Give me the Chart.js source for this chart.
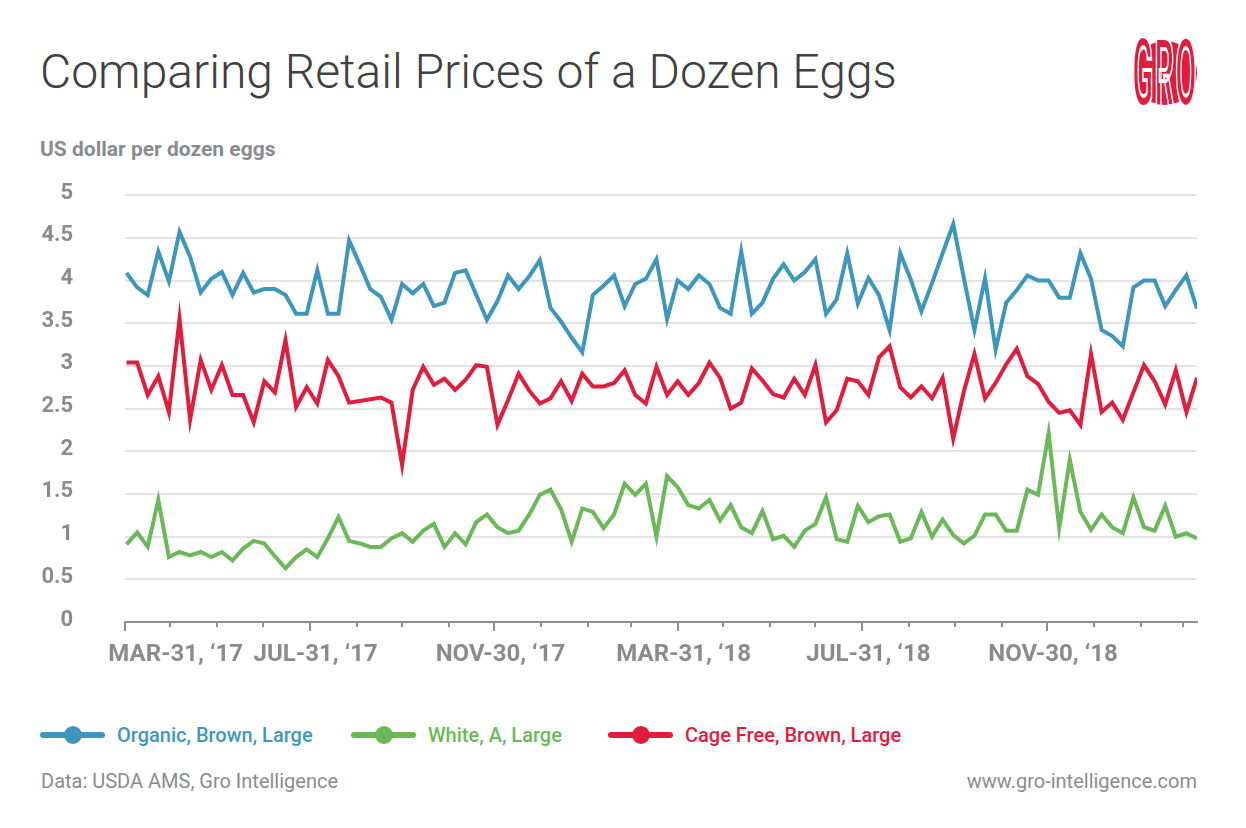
<!DOCTYPE html>
<html lang="en">
<head>
<meta charset="utf-8">
<title>Comparing Retail Prices of a Dozen Eggs</title>
<script src="https://cdn.jsdelivr.net/npm/chart.js@4.4.1/dist/chart.umd.min.js"></script>
<style>
  html, body { margin: 0; padding: 0; background: #fff; }
  body { width: 1246px; height: 828px; position: relative; overflow: hidden; font-family: Roboto, "Noto Sans", sans-serif; }
  .title { position: absolute; left: 40px; top: 48px; font-size: 48px; font-weight: 300; line-height: 1; color: #404040; white-space: nowrap; }
  .unit { position: absolute; left: 40px; top: 139px; font-size: 21px; font-weight: 700; line-height: 1; color: #8a8b8f; white-space: nowrap; }
  .logo { position: absolute; left: 1133px; top: 41px; width: 64px; height: 64px; border-radius: 50%; background: #e31b3c; }
  .logo span { position: absolute; left: 50%; top: 50%; transform: translate(-50%, -50%) scaleX(0.32); font-size: 96px; font-weight: 700; line-height: 1; color: #e31b3c; -webkit-text-stroke: 4px #fff; letter-spacing: 4px; }
  #wrap { position: absolute; left: 0; top: 170px; width: 1246px; height: 520px; }
  #wrap canvas { display: block; }
  .legend-item { position: absolute; top: 722px; height: 26px; display: flex; align-items: center; white-space: nowrap; }
  .legend-item .icon { position: relative; width: 65px; height: 18px; }
  .icon .bar { position: absolute; left: 0; right: 0; top: 6px; height: 6px; border-radius: 3px; }
  .icon .dot { position: absolute; left: 23.5px; top: 0; width: 18px; height: 18px; border-radius: 50%; }
  .legend-item .txt { margin-left: 12px; font-size: 20px; font-weight: 500; line-height: 1; }
  .footer { position: absolute; top: 771px; font-size: 20px; line-height: 1; color: #8a8b8f; white-space: nowrap; }
</style>
</head>
<body>
<div class="title">Comparing Retail Prices of a Dozen Eggs</div>
<div class="unit">US dollar per dozen eggs</div>
<div class="logo"><span>GRO</span></div>
<div id="wrap"><canvas id="eggs" width="1246" height="520"></canvas></div>
<div id="legend"></div>
<div class="footer" style="left:41px">Data: USDA AMS, Gro Intelligence</div>
<div class="footer" style="right:49px">www.gro-intelligence.com</div>

<script>
'use strict';

const seriesNames = ['Organic, Brown, Large', 'White, A, Large', 'Cage Free, Brown, Large'];
const seriesColors = ['#3d97bd', '#6ab857', '#e31b3c'];

// weekly retail prices, USD per dozen
const organicBrown = [
  4.09, 3.92, 3.83, 4.34, 3.99, 4.57, 4.28, 3.86, 4.02, 4.10, 3.83, 4.09, 3.86,
  3.90, 3.90, 3.83, 3.61, 3.61, 4.12, 3.61, 3.61, 4.47, 4.19, 3.90, 3.81, 3.54,
  3.96, 3.85, 3.96, 3.70, 3.74, 4.09, 4.12, 3.83, 3.54, 3.76, 4.06, 3.90, 4.05,
  4.24, 3.68, 3.52, 3.33, 3.16, 3.83, 3.94, 4.06, 3.70, 3.96, 4.02, 4.25,
  3.55, 4.00, 3.90, 4.06, 3.96, 3.68, 3.61, 4.34, 3.61, 3.74, 4.02, 4.19, 4.00,
  4.10, 4.25, 3.61, 3.78, 4.32, 3.73, 4.03, 3.83, 3.42, 4.32, 4.01, 3.64, 3.97,
  4.32, 4.66, 4.03, 3.42, 4.03, 3.19, 3.74, 3.89, 4.06, 4.00, 4.00, 3.80, 3.80,
  4.32, 4.02, 3.42, 3.35, 3.23, 3.92, 4.00, 4.00, 3.70, 3.89, 4.06, 3.67
];
const whiteA = [
  0.91, 1.05, 0.88, 1.43, 0.76, 0.82, 0.78, 0.82, 0.76, 0.82, 0.72, 0.86, 0.95,
  0.92, 0.77, 0.63, 0.76, 0.85, 0.76, 0.98, 1.23, 0.95, 0.92, 0.88, 0.88, 0.98,
  1.04, 0.94, 1.07, 1.15, 0.88, 1.04, 0.91, 1.17, 1.26, 1.11, 1.04, 1.07, 1.26,
  1.49, 1.55, 1.32, 0.94, 1.33, 1.29, 1.10, 1.26, 1.62, 1.49, 1.62, 1.00,
  1.71, 1.58, 1.37, 1.33, 1.43, 1.19, 1.37, 1.11, 1.04, 1.30, 0.97, 1.01, 0.88,
  1.07, 1.15, 1.46, 0.97, 0.94, 1.36, 1.17, 1.24, 1.26, 0.94, 0.98, 1.29, 1.00,
  1.20, 1.02, 0.92, 1.01, 1.26, 1.26, 1.07, 1.07, 1.55, 1.49, 2.21, 1.10, 1.90,
  1.29, 1.08, 1.26, 1.11, 1.04, 1.46, 1.11, 1.07, 1.36, 1.00, 1.04, 0.98
];
const cageFreeBrown = [
  3.04, 3.04, 2.66, 2.88, 2.46, 3.55, 2.37, 3.07, 2.72, 3.01, 2.66, 2.66, 2.34,
  2.82, 2.69, 3.30, 2.52, 2.75, 2.56, 3.07, 2.88, 2.57, 2.59, 2.61, 2.63, 2.57,
  1.84, 2.72, 2.99, 2.78, 2.85, 2.72, 2.84, 3.01, 2.99, 2.31, 2.60, 2.91, 2.71,
  2.56, 2.62, 2.82, 2.59, 2.91, 2.76, 2.76, 2.80, 2.95, 2.66, 2.56, 2.99,
  2.66, 2.82, 2.66, 2.80, 3.04, 2.86, 2.50, 2.57, 2.97, 2.83, 2.67, 2.63, 2.85,
  2.66, 3.01, 2.34, 2.48, 2.85, 2.82, 2.66, 3.10, 3.23, 2.75, 2.63, 2.76, 2.62,
  2.86, 2.15, 2.70, 3.14, 2.62, 2.80, 3.02, 3.20, 2.88, 2.79, 2.58, 2.45, 2.48,
  2.31, 3.14, 2.46, 2.57, 2.37, 2.69, 3.01, 2.82, 2.55, 2.95, 2.46, 2.86
];

const yTicks = [0, 0.5, 1, 1.5, 2, 2.5, 3, 3.5, 4, 4.5, 5];
const xTickLabels = ['MAR-31, ‘17', 'JUL-31, ‘17', 'NOV-30, ‘17', 'MAR-31, ‘18', 'JUL-31, ‘18', 'NOV-30, ‘18'];

// x axis counts days from 31 Mar 2017, one point per week
const DAY = 86400000;
const axisStart = Date.UTC(2017, 2, 31);
const firstWeek = Date.UTC(2017, 3, 1);
const weekDays = organicBrown.map((_, i) => (firstWeek - axisStart) / DAY + 7 * i);

// last day of every month, Mar 2017 .. Feb 2019
const monthEnds = [];
for (let m = 2; m <= 25; m++) {
    monthEnds.push(Math.round((Date.UTC(2017, m + 1, 0) - axisStart) / DAY));
}

const GREY = '#8a8b8f',
      AXIS = '#8f8f8f',
      GRID = '#e3e3e3',
      NONE = 'rgba(0,0,0,0)';

const legendLefts = [40, 351, 608];

// month ticks under the axis, longer every fourth month
const tickMarks = {
    id: 'tickMarks',
    afterDraw(chart) {
        const x = chart.scales.x, ctx = chart.ctx;
        ctx.save();
        ctx.strokeStyle = AXIS;
        ctx.lineWidth = 2;
        x.ticks.forEach((t, i) => {
            const px = Math.round(x.getPixelForValue(t.value));
            const len = i % 4 === 0 ? 9 : 5;
            ctx.beginPath();
            ctx.moveTo(px, x.top);
            ctx.lineTo(px, x.top + len);
            ctx.stroke();
        });
        ctx.restore();
    }
};

// first label sits right of its tick, as in the original; pad it with spaces
function xLabel(i) {
    if (i % 4 !== 0) return '';
    const text = xTickLabels[i / 4] || '';
    return i === 0 ? ' '.repeat(15) + text : text;
}

const toPoints = arr => arr.map((v, i) => ({ x: weekDays[i], y: v }));
const seriesData = [organicBrown, whiteA, cageFreeBrown];

const chart = new Chart(document.getElementById('eggs'), {
    type: 'line',
    data: {
        datasets: seriesNames.map((name, i) => ({
            label: name,
            data: toPoints(seriesData[i]),
            borderColor: seriesColors[i],
            backgroundColor: seriesColors[i],
            borderWidth: 4,
            pointRadius: 0,
            tension: 0
        }))
    },
    options: {
        responsive: false,
        animation: false,
        layout: { padding: { top: 25, right: 49, left: 0, bottom: 0 } },
        plugins: {
            legend: { display: false },
            tooltip: { enabled: false }
        },
        scales: {
            x: {
                type: 'linear',
                min: 0,
                max: 708,
                afterBuildTicks: s => { s.ticks = monthEnds.map(v => ({ value: v })); },
                afterFit: s => { s.height = 68; },
                // invisible tick gap keeps the labels clear of the axis
                grid: { display: true, drawOnChartArea: false, drawTicks: true, tickLength: 19, tickColor: NONE },
                border: { display: true, color: AXIS, width: 2 },
                ticks: {
                    autoSkip: false,
                    maxRotation: 0,
                    labelOffset: 6,
                    padding: 0,
                    color: GREY,
                    font: { family: 'Roboto', weight: 'bold', size: 24 },
                    callback: (v, i) => xLabel(i)
                }
            },
            y: {
                min: 0,
                max: 5,
                afterBuildTicks: s => { s.ticks = yTicks.map(v => ({ value: v })); },
                afterFit: s => { s.width = 125; },
                grid: {
                    color: c => (c.tick && c.tick.value === 0 ? NONE : GRID),
                    lineWidth: 2,
                    drawTicks: true,
                    tickLength: 40,
                    tickColor: NONE
                },
                border: { display: false },
                ticks: {
                    padding: 12,
                    labelOffset: -2,
                    color: GREY,
                    font: { family: 'Roboto', weight: 'bold', size: 22 },
                    callback: v => String(v)
                }
            }
        }
    },
    plugins: [tickMarks]
});

// html legend from the chart's own datasets
const legend = document.getElementById('legend');
chart.data.datasets.forEach((ds, i) => {
    const item = document.createElement('div');
    item.className = 'legend-item';
    item.style.left = legendLefts[i] + 'px';
    item.innerHTML = '<span class="icon"><span class="bar"></span><span class="dot"></span></span><span class="txt"></span>';
    item.querySelector('.bar').style.background = ds.borderColor;
    item.querySelector('.dot').style.background = ds.borderColor;
    const txt = item.querySelector('.txt');
    txt.textContent = ds.label;
    txt.style.color = ds.borderColor;
    legend.append(item);
});
</script>
</body>
</html>
